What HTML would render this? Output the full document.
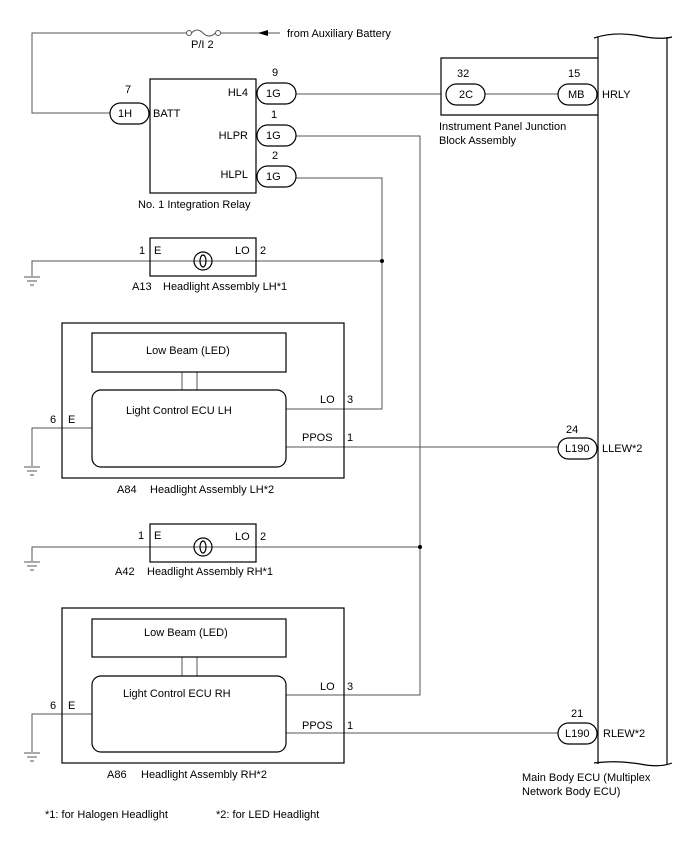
<!DOCTYPE html>
<html><head><meta charset="utf-8"><style>
html,body{margin:0;padding:0;background:#fff;}
svg{display:block;}
text{font-family:"Liberation Sans",Arial,sans-serif;font-size:11px;fill:#000;}
</style></head><body>
<svg width="688" height="852" viewBox="0 0 688 852" xmlns="http://www.w3.org/2000/svg">
<g fill="none" stroke="#555" stroke-width="1">
<polyline points="110,113 32,113 32,33 187,33"/>
<circle cx="189" cy="33" r="2.5"/><circle cx="218" cy="33" r="2.5"/>
<path d="M191.5,33 Q197,27 203,33 Q209,39 215.5,33"/>
<line x1="220.5" y1="33" x2="280" y2="33"/>
<line x1="296" y1="94" x2="441" y2="94"/>
<polyline points="296,136 420,136 420,695 286,695"/>
<polyline points="296,178 382,178 382,409 286,409"/>
<polyline points="32,276 32,261 382,261"/>
<polyline points="32,561 32,547 420,547"/>
<polyline points="92,428 32,428 32,466"/>
<line x1="286" y1="447" x2="558" y2="447"/>
<line x1="182" y1="372" x2="182" y2="390"/><line x1="197" y1="372" x2="197" y2="390"/>
<polyline points="92,714 32,714 32,752"/>
<line x1="286" y1="733" x2="558" y2="733"/>
<line x1="182" y1="657" x2="182" y2="676"/><line x1="197" y1="657" x2="197" y2="676"/>
<line x1="485" y1="94" x2="558" y2="94"/>
</g>
<g fill="none" stroke="#000" stroke-width="1.2">
<rect x="150" y="79" width="106" height="114"/>
<rect x="150" y="238" width="106" height="38"/>
<rect x="150" y="524" width="106" height="38"/>
<circle cx="203" cy="261" r="9"/><ellipse cx="203" cy="261" rx="3" ry="6"/>
<circle cx="203" cy="547" r="9"/><ellipse cx="203" cy="547" rx="3" ry="6"/>
<rect x="62" y="323" width="282" height="155"/>
<rect x="92" y="333" width="194" height="39"/>
<rect x="92" y="390" width="194" height="77" rx="9"/>
<rect x="62" y="608" width="282" height="155"/>
<rect x="92" y="619" width="194" height="38"/>
<rect x="92" y="676" width="194" height="76" rx="9"/>
<polyline points="598,58 441,58 441,115 598,115"/>
<line x1="598" y1="37" x2="598" y2="764"/>
<line x1="667" y1="37" x2="667" y2="764"/>
<path d="M594,38 Q615,31 640,36 Q660,40 672,37"/>
<path d="M594,763 Q615,760 640,764 Q660,768 672,763"/>
<rect x="110" y="103" width="39" height="21" rx="10.5"/>
<rect x="257" y="83" width="39" height="21" rx="10.5"/>
<rect x="257" y="125" width="39" height="21" rx="10.5"/>
<rect x="257" y="166" width="39" height="21" rx="10.5"/>
<rect x="446" y="84" width="39" height="21" rx="10.5"/>
<rect x="558" y="84" width="39" height="21" rx="10.5"/>
<rect x="558" y="438" width="39" height="21" rx="10.5"/>
<rect x="558" y="723" width="39" height="21" rx="10.5"/>
</g>
<g stroke="#555" stroke-width="1">
<line x1="24" y1="277" x2="40" y2="277"/><line x1="27" y1="281" x2="37" y2="281"/><line x1="30" y1="285" x2="34" y2="285"/>
<line x1="24" y1="467" x2="40" y2="467"/><line x1="27" y1="471" x2="37" y2="471"/><line x1="30" y1="475" x2="34" y2="475"/>
<line x1="24" y1="562" x2="40" y2="562"/><line x1="27" y1="566" x2="37" y2="566"/><line x1="30" y1="570" x2="34" y2="570"/>
<line x1="24" y1="753" x2="40" y2="753"/><line x1="27" y1="757" x2="37" y2="757"/><line x1="30" y1="761" x2="34" y2="761"/>
</g>
<circle cx="382" cy="261" r="2" fill="#000"/>
<circle cx="420" cy="547" r="2" fill="#000"/>
<polygon points="258,33 268,30 268,36" fill="#000"/>
<text x="287" y="37">from Auxiliary Battery</text>
<text x="191" y="48">P/I 2</text>
<text x="125" y="93">7</text>
<text x="118" y="117">1H</text>
<text x="153" y="117">BATT</text>
<text x="272" y="76">9</text>
<text x="271" y="118">1</text>
<text x="272" y="159">2</text>
<text x="266" y="97">1G</text><text x="266" y="139">1G</text><text x="266" y="180">1G</text>
<text x="248" y="96" text-anchor="end">HL4</text>
<text x="248" y="139" text-anchor="end">HLPR</text>
<text x="248" y="178" text-anchor="end">HLPL</text>
<text x="138" y="208">No. 1 Integration Relay</text>
<text x="457" y="77">32</text><text x="568" y="77">15</text>
<text x="459" y="98">2C</text><text x="568" y="98">MB</text>
<text x="602" y="98">HRLY</text>
<text x="439" y="130">Instrument Panel Junction</text>
<text x="439" y="144">Block Assembly</text>
<text x="139" y="254">1</text><text x="154" y="254">E</text>
<text x="235" y="254">LO</text><text x="260" y="254">2</text>
<text x="132" y="290">A13</text><text x="163" y="290">Headlight Assembly LH*1</text>
<text x="146" y="354">Low Beam (LED)</text>
<text x="126" y="414">Light Control ECU LH</text>
<text x="50" y="423">6</text><text x="68" y="423">E</text>
<text x="320" y="403">LO</text><text x="347" y="403">3</text>
<text x="302" y="441">PPOS</text><text x="347" y="441">1</text>
<text x="117" y="493">A84</text><text x="150" y="493">Headlight Assembly LH*2</text>
<text x="566" y="433">24</text>
<text x="565" y="452">L190</text>
<text x="602" y="452">LLEW*2</text>
<text x="138" y="539">1</text><text x="154" y="539">E</text>
<text x="235" y="540">LO</text><text x="260" y="540">2</text>
<text x="115" y="575">A42</text><text x="147" y="575">Headlight Assembly RH*1</text>
<text x="144" y="636">Low Beam (LED)</text>
<text x="123" y="697">Light Control ECU RH</text>
<text x="50" y="709">6</text><text x="68" y="709">E</text>
<text x="320" y="690">LO</text><text x="347" y="690">3</text>
<text x="302" y="729">PPOS</text><text x="347" y="729">1</text>
<text x="107" y="778">A86</text><text x="141" y="778">Headlight Assembly RH*2</text>
<text x="571" y="717">21</text>
<text x="565" y="737">L190</text>
<text x="603" y="737">RLEW*2</text>
<text x="522" y="781">Main Body ECU (Multiplex</text>
<text x="522" y="795">Network Body ECU)</text>
<text x="45" y="818">*1: for Halogen Headlight</text>
<text x="216" y="818">*2: for LED Headlight</text>
</svg>
</body></html>
